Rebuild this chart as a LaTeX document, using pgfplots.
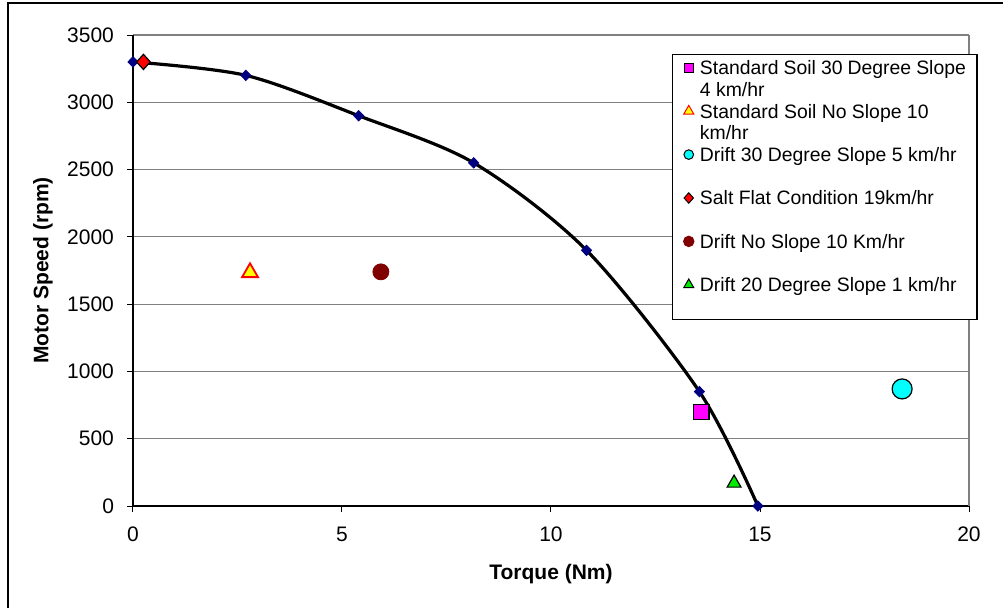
\documentclass[border=0pt]{standalone}
\usepackage{fontspec}
\setmainfont{Liberation Sans}
\usepackage{pgfplots}
\pgfplotsset{compat=1.18}

\definecolor{navy}{RGB}{0,0,128}
\definecolor{maroon}{RGB}{128,0,0}
\definecolor{lime}{RGB}{0,235,0}
\definecolor{xlmagenta}{RGB}{255,0,255}
\definecolor{xlcyan}{RGB}{0,255,255}
\definecolor{xlyellow}{RGB}{255,255,0}
\definecolor{xlred}{RGB}{255,0,0}
\definecolor{gridgray}{RGB}{128,128,128}

% legend text: two lines, always the same height
\newcommand{\lent}[2]{\parbox[t]{133pt}{\rule{0pt}{8.9pt}#1\\#2\rule[-1.95pt]{0pt}{1pt}}}

\begin{document}
\begin{tikzpicture}
% page = chart area, 1 px of the reference = 0.5pt
\useasboundingbox (-66.5pt,-50.5pt) rectangle (435pt,253pt);
\draw[black, line width=0.6pt] (-62.5pt,-60pt) -- (-62.5pt,251.5pt) -- (440pt,251.5pt);
\begin{axis}[
    scale only axis,
    width=418pt, height=235.5pt,
    xmin=0, xmax=20, ymin=0, ymax=3500,
    xtick={0,5,10,15},
    extra x ticks={20},
    extra x tick style={grid=major},
    ytick={0,500,...,3500},
    axis lines=left,
    axis line style={-, black, line width=0.6pt},
    tick align=outside,
    major tick length=3pt,
    tick style={black, line width=0.5pt},
    ymajorgrids,
    major grid style={gridgray, line width=0.6pt},
    /pgf/number format/assume math mode=true,
    /pgf/number format/1000 sep={},
    tick label style={font=\fontsize{10.5}{12}\selectfont},
    xticklabel style={yshift=-4pt},
    yticklabel style={xshift=-3pt},
    every axis x label/.style={at={(axis description cs:0.5,-0.1444)}, anchor=center},
    every axis y label/.style={at={(axis description cs:-0.1077,0.5)}, rotate=90, anchor=center},
    label style={font=\fontsize{10.5}{12}\bfseries\selectfont},
    xlabel={Torque (Nm)},
    ylabel={Motor Speed (rpm)},
    legend style={
        at={(0.6447,0.9597)}, anchor=north west,
        draw=black, line width=0.6pt, fill=white,
        font=\fontsize{9.7}{10.85}\selectfont,
        inner xsep=5.5pt, inner ysep=1.2pt,
        row sep=0pt, column sep=3pt,
        cells={anchor=base west},
        nodes={inner sep=0pt, text depth={}},
    },
    legend image code/.code={\draw[line width=0.5pt] plot coordinates {(2.2pt,3.5pt)};},
]
% motor curve points
\addplot[only marks, mark=diamond*, mark size=2.6pt, mark options={xscale=1.3}, color=navy, forget plot] coordinates {
    (0,3300) (2.7,3200) (5.4,2900) (8.15,2550) (10.85,1900) (13.55,850) (14.95,0)
};
\addplot[only marks, mark=square*, mark size=3.8pt, draw=black, fill=xlmagenta, line width=0.6pt,
    legend image post style={mark size=2.2pt}] coordinates {(13.6,700)};
\addlegendentry{\lent{Standard Soil 30 Degree Slope}{4 km/hr}}
% motor curve line
\addplot[black, line width=1.6pt, smooth, tension=0.5, forget plot] coordinates {
    (0,3300) (2.7,3200) (5.4,2900) (8.15,2550) (10.85,1900) (13.55,850) (14.95,0)
};
\addplot[only marks, mark=triangle*, mark size=4.6pt, draw=xlred, fill=xlyellow, line width=0.9pt,
    legend image post style={mark size=2.9pt}] coordinates {(2.8,1735)};
\addlegendentry{\lent{Standard Soil No Slope 10}{km/hr}}
\addplot[only marks, mark=*, mark size=5pt, draw=black, fill=xlcyan, line width=0.6pt,
    legend image post style={mark size=2.4pt}] coordinates {(18.4,870)};
\addlegendentry{\lent{Drift 30 Degree Slope 5 km/hr}{}}
\addplot[only marks, mark=diamond*, mark size=3.8pt, mark options={xscale=1.2}, draw=black, fill=xlred, line width=0.6pt,
    legend image post style={mark size=2.6pt}] coordinates {(0.25,3300)};
\addlegendentry{\lent{Salt Flat Condition 19km/hr}{}}
\addplot[only marks, mark=*, mark size=4pt, draw=maroon, fill=maroon,
    legend image post style={mark size=2.6pt}] coordinates {(5.93,1740)};
\addlegendentry{\lent{Drift No Slope 10 Km/hr}{}}
\addplot[only marks, mark=triangle*, mark size=4pt, draw=black, fill=lime, line width=0.6pt,
    legend image post style={mark size=2.9pt}] coordinates {(14.38,170)};
\addlegendentry{\lent{Drift 20 Degree Slope 1 km/hr}{}}
\end{axis}
\end{tikzpicture}
\end{document}
